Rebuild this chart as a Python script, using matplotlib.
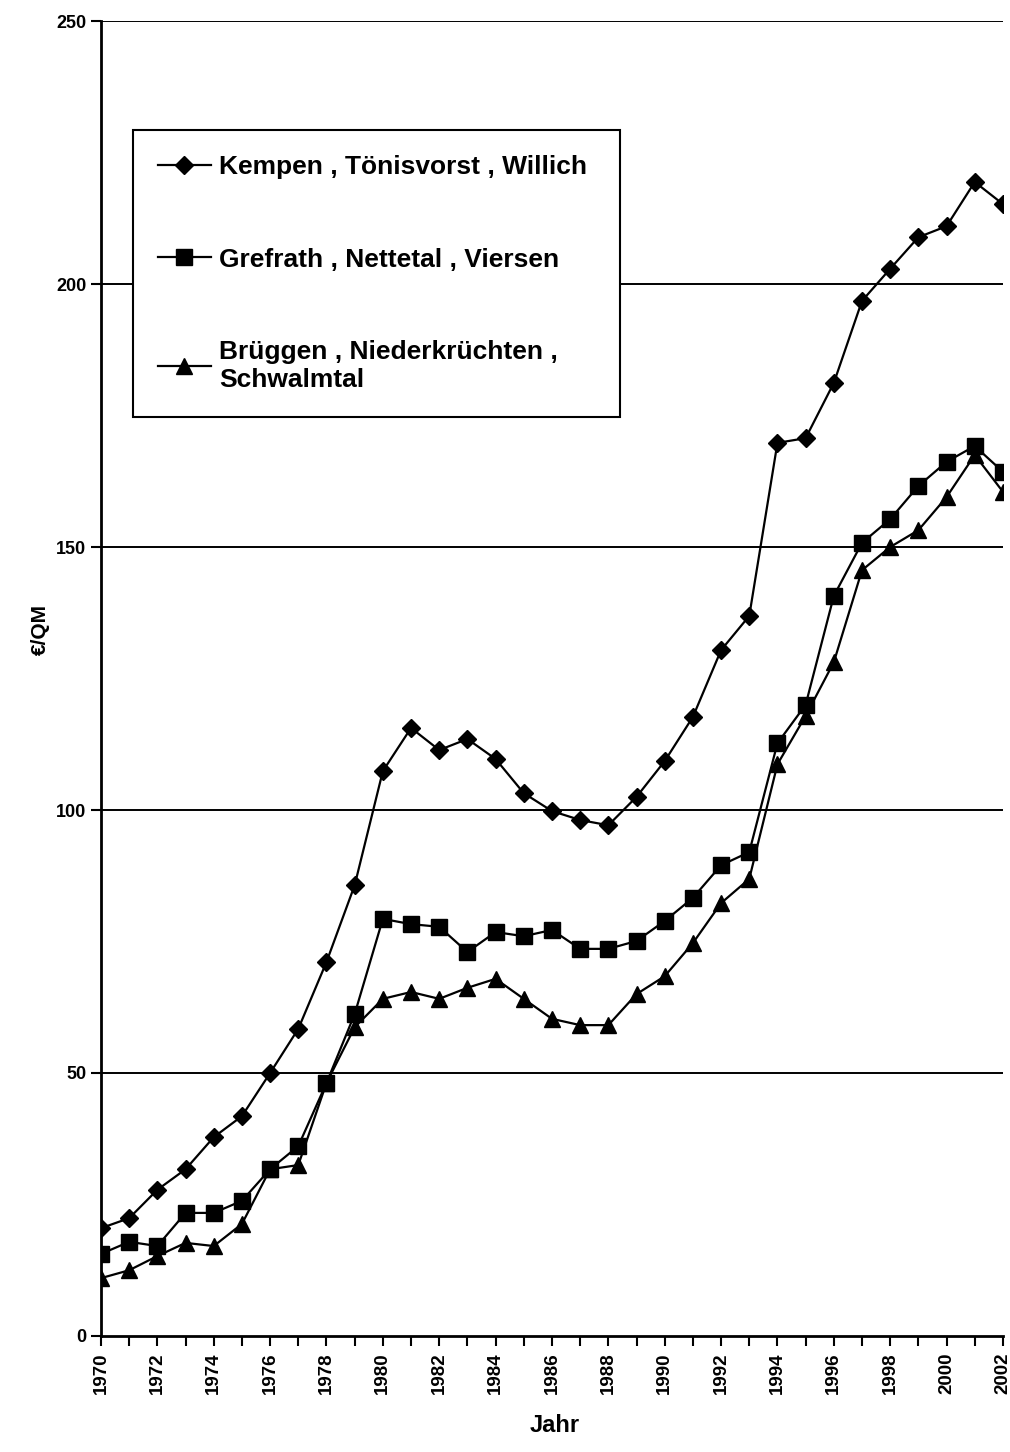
import matplotlib
matplotlib.use("Agg")
import matplotlib.pyplot as plt

plt.rcParams['font.family'] = ['Liberation Sans', 'DejaVu Sans']
plt.rcParams['font.weight'] = 'bold'

years = list(range(1970, 2003))

kempen = [20.5, 22.4, 27.8, 31.7, 37.8, 41.8, 50.0, 58.4, 71.1, 85.7,
          107.4, 115.6, 111.4, 113.5, 109.7, 103.2, 99.8, 98.1, 97.1, 102.5,
          109.3, 117.7, 130.4, 136.9, 169.8, 170.7, 181.2, 196.8, 202.9, 208.9,
          211.0, 219.4, 215.2]
grefrath = [15.6, 17.9, 17.1, 23.4, 23.4, 25.7, 31.7, 36.1, 48.1, 61.2,
            79.3, 78.3, 77.8, 73.0, 76.8, 76.0, 77.2, 73.6, 73.6, 75.1,
            78.9, 83.3, 89.5, 92.0, 112.7, 120.0, 140.7, 150.8, 155.3, 161.6,
            166.2, 169.2, 164.3]
brueggen = [11.0, 12.5, 15.2, 17.7, 17.1, 21.3, 31.7, 32.5, 48.1, 58.7,
            64.1, 65.4, 64.1, 66.2, 67.9, 64.1, 60.3, 59.1, 59.1, 65.0,
            68.4, 74.7, 82.3, 86.9, 108.7, 117.9, 128.1, 145.6, 150.0, 153.2,
            159.5, 167.5, 160.5]

labels = ["Kempen , Tönisvorst , Willich",
          "Grefrath , Nettetal , Viersen",
          "Brüggen , Niederkrüchten ,\nSchwalmtal"]

fig = plt.figure(figsize=(10.1, 14.52), dpi=100)
ax = fig.add_axes([0.1, 0.0799, 0.893, 0.9056])

for yv in [50, 100, 150, 200, 250]:
    ax.axhline(yv, color='black', linewidth=1.4, zorder=1)

ax.plot(years, kempen, color='black', linewidth=1.6, marker='D', markersize=9,
        label=labels[0], zorder=3)
ax.plot(years, grefrath, color='black', linewidth=1.6, marker='s', markersize=11,
        label=labels[1], zorder=3)
ax.plot(years, brueggen, color='black', linewidth=1.6, marker='^', markersize=11,
        label=labels[2], zorder=3)

ax.set_xlim(1970, 2002)
ax.set_ylim(0, 250)
ax.set_yticks([0, 50, 100, 150, 200, 250])
ax.set_xticks(years)
ax.set_xticklabels([str(y) if (y - 1970) % 2 == 0 else '' for y in years],
                   rotation=90, fontsize=13.5, fontweight='bold')
ax.tick_params(axis='y', labelsize=13, direction='out', length=7, width=1.5)
ax.tick_params(axis='x', direction='out', length=7, width=1.5, pad=5)
for lbl in ax.get_yticklabels():
    lbl.set_fontweight('bold')

for s in ['top', 'right']:
    ax.spines[s].set_visible(False)
for s in ['left', 'bottom']:
    ax.spines[s].set_linewidth(2)

ax.set_ylabel('€/QM', fontsize=15, fontweight='bold')
ax.set_xlabel('Jahr', fontsize=17, fontweight='bold')
ax.yaxis.set_label_coords(-0.0676, 0.537)
ax.xaxis.set_label_coords(0.503, -0.068)
ax.yaxis.label.set_va('center')
ax.xaxis.label.set_va('center')

leg = ax.legend(loc='upper left', bbox_to_anchor=(0.1317, 0.7149, 0.482, 0.1956),
                bbox_transform=fig.transFigure, mode='expand',
                prop={'size': 19, 'weight': 'bold'}, frameon=True, fancybox=False,
                edgecolor='black', framealpha=1, labelspacing=2.6, handlelength=2.0,
                handletextpad=0.3, borderpad=0.95, borderaxespad=0)
leg.get_frame().set_linewidth(1.5)

fig.savefig('out.png', dpi=100)
